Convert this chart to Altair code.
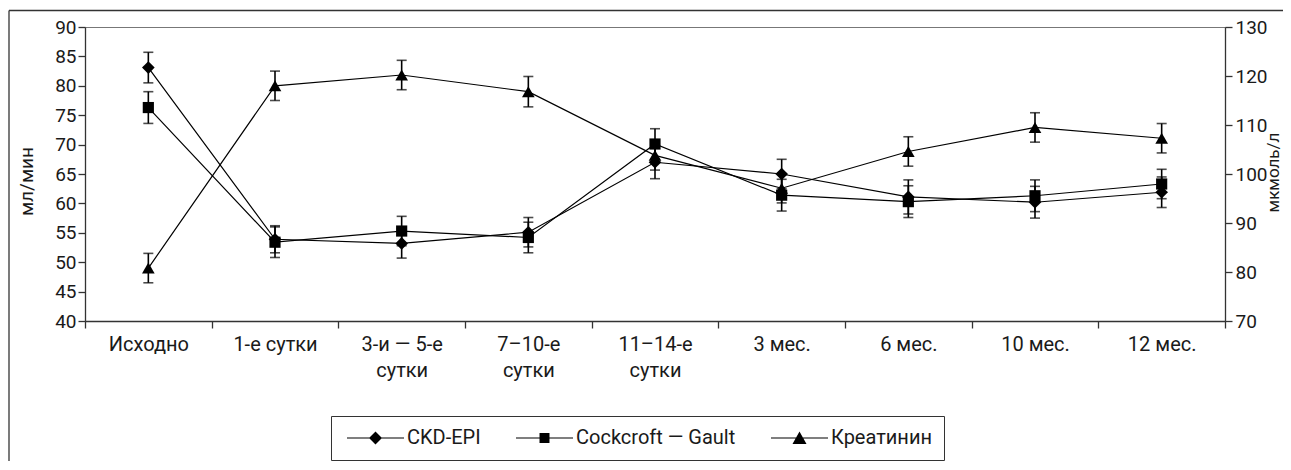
import altair as alt
import pandas as pd

categories = ["Исходно", "1-е сутки", "3-и — 5-е сутки", "7–10-е сутки", "11–14-е сутки",
              "3 мес.", "6 мес.", "10 мес.", "12 мес."]
series_names = ["CKD-EPI", "Cockcroft — Gault", "Креатинин"]

ckd_epi = [83.1, 53.9, 53.2, 55.1, 67.0, 65.0, 61.1, 60.2, 61.9]
ckd_epi_err = [2.6, 2.3, 2.5, 2.5, 2.8, 2.5, 2.9, 2.7, 2.6]
cockcroft = [76.3, 53.4, 55.3, 54.2, 70.1, 61.4, 60.3, 61.3, 63.3]
cockcroft_err = [2.7, 2.6, 2.5, 2.6, 2.6, 2.7, 2.7, 2.7, 2.5]
creatinine = [80.8, 118.0, 120.2, 116.8, 103.8, 97.1, 104.6, 109.5, 107.3]
creatinine_err = [3.0, 3.0, 3.0, 3.1, 3.0, 3.0, 3.0, 3.0, 3.0]

left_ticks = [40, 45, 50, 55, 60, 65, 70, 75, 80, 85, 90]
right_ticks = [70, 80, 90, 100, 110, 120, 130]

FONT = "Roboto"
TXT = "#1a1a1a"
AX = "#333333"


def frame(vals, errs, name):
    return pd.DataFrame({
        "cat": categories,
        "series": name,
        "val": vals,
        "lo": [v - e for v, e in zip(vals, errs)],
        "hi": [v + e for v, e in zip(vals, errs)],
    })


df_ckd = frame(ckd_epi, ckd_epi_err, series_names[0])
df_cg = frame(cockcroft, cockcroft_err, series_names[1])
df_cr = frame(creatinine, creatinine_err, series_names[2])
df_all = pd.concat([df_ckd, df_cg, df_cr], ignore_index=True)

label_expr = ("indexof(datum.label, '-е сутки') > 1 ? "
              "[replace(datum.label, ' сутки', ''), 'сутки'] : datum.label")

x_enc = alt.X(
    "cat:N", sort=categories,
    scale=alt.Scale(type="band", domain=categories, paddingInner=0, paddingOuter=0),
    axis=alt.Axis(title=None, tickBand="extent", labelAngle=0, labelFont=FONT,
                  labelFontSize=20, labelColor=TXT, labelPadding=6, tickSize=7,
                  tickColor=AX, domainColor=AX, domainWidth=1.3, tickWidth=1.3,
                  labelExpr=label_expr, labelLineHeight=26, grid=False),
)

left_scale = alt.Scale(domain=[40, 90], nice=False, zero=False)
right_scale = alt.Scale(domain=[70, 130], nice=False, zero=False)

left_axis = alt.Axis(title="мл/мин", values=left_ticks, grid=False, tickSize=7,
                     labelPadding=2, labelFont=FONT, labelFontSize=19, labelColor=TXT,
                     titleFont=FONT, titleFontSize=19, titleFontWeight="normal",
                     titleColor=TXT, titleX=-53, titleY=154, titleAngle=270,
                     titleBaseline="alphabetic", tickColor=AX,
                     domainColor=AX, domainWidth=1.3, tickWidth=1.3)
right_axis = alt.Axis(title="мкмоль/л", orient="right", values=right_ticks, grid=False,
                      tickSize=7, labelPadding=3, labelFont=FONT, labelFontSize=19,
                      labelColor=TXT, titleFont=FONT, titleFontSize=17,
                      titleFontWeight="normal", titleColor=TXT, titleAngle=270,
                      titleX=53, titleY=145, titleBaseline="alphabetic",
                      tickColor=AX, domainColor=AX, domainWidth=1.3, tickWidth=1.3)


def series_layers(df, shape, size, scale, axis):
    base = alt.Chart(df)
    line = base.mark_line(color="black", strokeWidth=1.2).encode(
        x=x_enc, y=alt.Y("val:Q", scale=scale, axis=axis))
    rule = base.mark_rule(color="black", strokeWidth=1.6).encode(
        x=x_enc, y=alt.Y("lo:Q", scale=scale, axis=axis), y2="hi:Q")
    cap_lo = base.mark_tick(color="black", size=10, thickness=1.6, orient="horizontal").encode(
        x=x_enc, y=alt.Y("lo:Q", scale=scale, axis=axis))
    cap_hi = base.mark_tick(color="black", size=10, thickness=1.6, orient="horizontal").encode(
        x=x_enc, y=alt.Y("hi:Q", scale=scale, axis=axis))
    pts = base.mark_point(shape=shape, size=size, filled=True, color="black",
                          opacity=1).encode(
        x=x_enc, y=alt.Y("val:Q", scale=scale, axis=axis))
    return [line, rule, cap_lo, cap_hi, pts]


# legend symbols: filled thin bar (the line) plus marker, unit = sqrt(symbolSize)/2 px
BAR = "M-1,-0.1H8.5V0.1H-1Z"
legend_paths = [
    BAR + "M3.75,-1.08L4.83,0L3.75,1.08L2.67,0Z",
    BAR + "M2.92,-0.83H4.58V0.83H2.92Z",
    BAR + "M3.75,-1.1L4.92,1L2.58,1Z",
]

legend_layer = alt.Chart(df_all).transform_filter("false").mark_point(
    filled=True, color="black", opacity=1
).encode(
    shape=alt.Shape("series:N", scale=alt.Scale(domain=series_names, range=legend_paths),
                    legend=alt.Legend(
                        title=None, orient="none", legendX=246, legendY=389,
                        direction="horizontal", columns=3, columnPadding=31,
                        symbolSize=144, labelOffset=44, labelFont=FONT,
                        labelFontSize=20, labelColor=TXT, padding=12,
                        strokeColor=AX, symbolFillColor="black",
                        symbolOpacity=1))
)

one = pd.DataFrame({"k": [0]})
outer_left = alt.Chart(one).mark_rule(color=AX, strokeWidth=1.3, clip=False).encode(
    x=alt.value(-76), y=alt.value(-16.5), y2=alt.value(440))
outer_top = alt.Chart(one).mark_rule(color=AX, strokeWidth=1.3, clip=False).encode(
    x=alt.value(-76), x2=alt.value(1300), y=alt.value(-16.5))

left = alt.layer(
    outer_left, outer_top,
    *series_layers(df_ckd, "diamond", 160, left_scale, left_axis),
    *series_layers(df_cg, "square", 125, left_scale, left_axis),
    legend_layer,
)
right = alt.layer(*series_layers(df_cr, "triangle-up", 160, right_scale, right_axis))

chart = alt.layer(left, right).resolve_scale(y="independent").properties(
    width=1140, height=294,
    padding={"left": 77, "top": 19, "right": 58, "bottom": 140},
    autosize=alt.AutoSizeParams(type="none"),
    background="white",
).configure_view(stroke="#777777", strokeWidth=1)

chart.save("out.html", embed_options={"renderer": "svg", "actions": False})
